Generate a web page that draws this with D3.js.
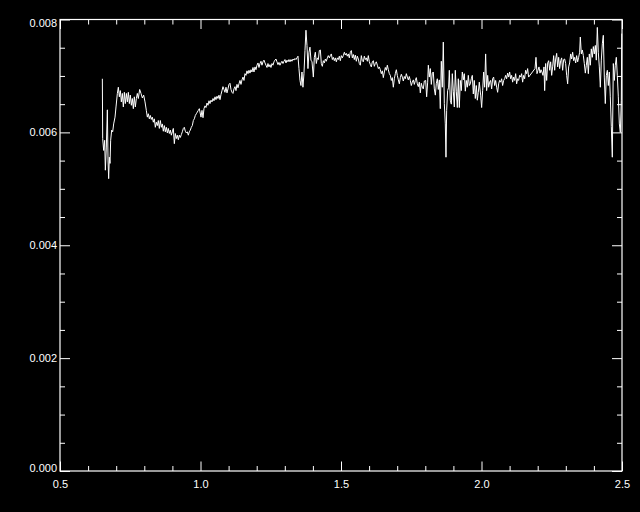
<!DOCTYPE html>
<html>
<head>
<meta charset="utf-8">
<script src="https://cdn.jsdelivr.net/npm/d3@7/dist/d3.min.js"></script>
<style>
  html, body { margin: 0; padding: 0; background: #000; }
  svg { display: block; }
</style>
</head>
<body>
<svg id="chart"></svg>
<script>
// spectrum, [wavelength, flux], split by stretch
var specVis = [
  [0.6507,0.00695],[0.6519,0.00589],[0.6554,0.00568],[0.6590,0.00586],[0.6614,0.00533],[0.6649,0.00574],
  [0.6685,0.00640],[0.6709,0.00551],[0.6732,0.00518],[0.6756,0.00556],[0.6780,0.00545],[0.6803,0.00586],
  [0.6839,0.00604],[0.6875,0.00601],[0.6910,0.00615],[0.6958,0.00627],[0.6993,0.00645],[0.7041,0.00669],
  [0.7076,0.00680],[0.7112,0.00663],[0.7147,0.00674],[0.7183,0.00654],[0.7219,0.00669],[0.7254,0.00645],
  [0.7290,0.00671],[0.7325,0.00651],[0.7361,0.00669],[0.7397,0.00654],[0.7432,0.00671],[0.7468,0.00651],
  [0.7503,0.00666],[0.7539,0.00648],[0.7574,0.00660],[0.7610,0.00642],[0.7645,0.00663],[0.7681,0.00645],
  [0.7717,0.00660],[0.7752,0.00669],[0.7788,0.00660],[0.7835,0.00676],[0.7883,0.00669],[0.7930,0.00661],
  [0.7978,0.00666],[0.8025,0.00654],[0.8072,0.00639],[0.8108,0.00627],[0.8144,0.00633],[0.8179,0.00624],
  [0.8215,0.00630],[0.8250,0.00623],[0.8286,0.00627],[0.8321,0.00618],[0.8357,0.00624],[0.8393,0.00609],
  [0.8428,0.00618],[0.8464,0.00612],[0.8499,0.00621],[0.8535,0.00607],[0.8570,0.00621],[0.8606,0.00609],
  [0.8642,0.00615],[0.8677,0.00602],[0.8713,0.00612],[0.8748,0.00601],[0.8784,0.00609],[0.8820,0.00599],
  [0.8855,0.00607],[0.8891,0.00598],[0.8926,0.00604],[0.8962,0.00595],[0.8997,0.00601],[0.9033,0.00607],
  [0.9069,0.00580],[0.9104,0.00598],[0.9140,0.00589],[0.9175,0.00595],[0.9211,0.00587],[0.9246,0.00595],
  [0.9282,0.00591],[0.9318,0.00596],[0.9353,0.00601],[0.9389,0.00607],[0.9424,0.00609],[0.9460,0.00602],
  [0.9496,0.00599],[0.9531,0.00601],[0.9567,0.00595],[0.9602,0.00601],[0.9638,0.00604],[0.9673,0.00609],
  [0.9709,0.00612],[0.9745,0.00621],[0.9780,0.00624],[0.9816,0.00630],[0.9851,0.00633],[0.9887,0.00636],
  [0.9922,0.00639],[0.9958,0.00642]
];

var specJ = [
  [1.0018,0.00627],[1.0053,0.00639],[1.0089,0.00626],[1.0124,0.00642],[1.0160,0.00647],[1.0195,0.00644],
  [1.0231,0.00652],[1.0267,0.00648],[1.0302,0.00656],[1.0338,0.00651],[1.0373,0.00657],[1.0409,0.00654],
  [1.0445,0.00660],[1.0480,0.00656],[1.0516,0.00663],[1.0551,0.00658],[1.0587,0.00664],[1.0622,0.00660],
  [1.0658,0.00666],[1.0694,0.00658],[1.0729,0.00667],[1.0765,0.00674],[1.0800,0.00681],[1.0836,0.00676],
  [1.0871,0.00671],[1.0907,0.00680],[1.0943,0.00670],[1.0978,0.00677],[1.1014,0.00685],[1.1049,0.00687],
  [1.1085,0.00676],[1.1121,0.00671],[1.1156,0.00669],[1.1192,0.00677],[1.1227,0.00681],[1.1263,0.00674],
  [1.1298,0.00685],[1.1334,0.00679],[1.1370,0.00686],[1.1405,0.00692],[1.1441,0.00685],[1.1476,0.00693],
  [1.1512,0.00698],[1.1547,0.00692],[1.1583,0.00704],[1.1619,0.00701],[1.1654,0.00709],[1.1690,0.00704],
  [1.1725,0.00710],[1.1761,0.00705],[1.1796,0.00711],[1.1832,0.00707],[1.1868,0.00715],[1.1903,0.00707],
  [1.1939,0.00716],[1.1974,0.00711],[1.2010,0.00719],[1.2046,0.00723],[1.2081,0.00715],[1.2117,0.00722],
  [1.2152,0.00726],[1.2188,0.00719],[1.2223,0.00725],[1.2259,0.00728],[1.2295,0.00723],[1.2330,0.00719],
  [1.2366,0.00715],[1.2401,0.00722],[1.2437,0.00716],[1.2472,0.00720],[1.2508,0.00715],[1.2544,0.00722],
  [1.2579,0.00719],[1.2615,0.00725],[1.2650,0.00728],[1.2686,0.00730],[1.2721,0.00725],[1.2757,0.00720],
  [1.2793,0.00724],[1.2828,0.00719],[1.2864,0.00723],[1.2899,0.00726],[1.2935,0.00722],[1.2970,0.00726],
  [1.3006,0.00729],[1.3042,0.00723],[1.3077,0.00728],[1.3113,0.00725],[1.3148,0.00729],[1.3184,0.00725],
  [1.3220,0.00729],[1.3255,0.00726],[1.3291,0.00730],[1.3326,0.00728],[1.3362,0.00731],[1.3397,0.00729],
  [1.3433,0.00732],[1.3469,0.00735],[1.3504,0.00713],[1.3540,0.00692],[1.3575,0.00683],[1.3611,0.00707],
  [1.3646,0.00680],[1.3682,0.00704],[1.3718,0.00745],[1.3753,0.00781],[1.3789,0.00754],[1.3824,0.00713],
  [1.3860,0.00742],[1.3896,0.00751],[1.3931,0.00728]
];

var specH = [
  [1.3968,0.00725],[1.4016,0.00698],[1.4051,0.00733],[1.4087,0.00742],[1.4122,0.00722],[1.4158,0.00732],
  [1.4194,0.00729],[1.4229,0.00745],[1.4265,0.00746],[1.4300,0.00722],[1.4336,0.00717],[1.4371,0.00727],
  [1.4407,0.00723],[1.4443,0.00730],[1.4478,0.00726],[1.4514,0.00732],[1.4549,0.00736],[1.4585,0.00732],
  [1.4620,0.00736],[1.4656,0.00739],[1.4692,0.00729],[1.4727,0.00733],[1.4763,0.00727],[1.4798,0.00732],
  [1.4834,0.00725],[1.4870,0.00732],[1.4905,0.00729],[1.4941,0.00735],[1.4976,0.00727],[1.5012,0.00736],
  [1.5047,0.00732],[1.5083,0.00736],[1.5119,0.00742],[1.5154,0.00737],[1.5190,0.00740],[1.5225,0.00735],
  [1.5261,0.00739],[1.5296,0.00732],[1.5332,0.00742],[1.5368,0.00745],[1.5403,0.00732],[1.5439,0.00738],
  [1.5474,0.00729],[1.5510,0.00737],[1.5545,0.00726],[1.5581,0.00735],[1.5617,0.00730],[1.5652,0.00722],
  [1.5688,0.00719],[1.5723,0.00736],[1.5759,0.00727],[1.5795,0.00725],[1.5830,0.00735],[1.5866,0.00729],
  [1.5901,0.00732],[1.5937,0.00726],[1.5972,0.00736],[1.6008,0.00725],[1.6044,0.00720],[1.6079,0.00716],
  [1.6115,0.00725],[1.6150,0.00727],[1.6186,0.00717],[1.6221,0.00722],[1.6257,0.00725],[1.6293,0.00719],
  [1.6329,0.00713],[1.6364,0.00716],[1.6400,0.00711],[1.6435,0.00704],[1.6471,0.00709],[1.6506,0.00697],
  [1.6542,0.00707],[1.6577,0.00715],[1.6613,0.00710],[1.6649,0.00719],[1.6684,0.00711],[1.6720,0.00704],
  [1.6755,0.00701],[1.6791,0.00692],[1.6826,0.00697],[1.6862,0.00680],[1.6898,0.00695],[1.6933,0.00704],
  [1.6969,0.00711],[1.7004,0.00701],[1.7040,0.00693],[1.7076,0.00686],[1.7111,0.00697],[1.7147,0.00703],
  [1.7182,0.00698],[1.7218,0.00691],[1.7253,0.00699],[1.7289,0.00695],[1.7325,0.00704],[1.7360,0.00698],
  [1.7396,0.00693],[1.7431,0.00699],[1.7467,0.00692],[1.7502,0.00683],[1.7538,0.00689],[1.7574,0.00693],
  [1.7609,0.00685],[1.7645,0.00692],[1.7680,0.00697],[1.7716,0.00686],[1.7751,0.00681],[1.7787,0.00689],
  [1.7823,0.00670],[1.7858,0.00687],[1.7894,0.00680],[1.7929,0.00677],[1.7965,0.00691]
];

var specK1 = [
  [1.8013,0.00692],[1.8048,0.00663],[1.8084,0.00689],[1.8108,0.00719],[1.8143,0.00698],[1.8179,0.00713],
  [1.8214,0.00685],[1.8250,0.00705],[1.8285,0.00707],[1.8321,0.00677],[1.8357,0.00666],[1.8392,0.00687],
  [1.8428,0.00695],[1.8463,0.00676],[1.8499,0.00693],[1.8534,0.00642],[1.8570,0.00726],[1.8606,0.00680],
  [1.8641,0.00760],[1.8677,0.00651],[1.8712,0.00615],[1.8736,0.00556],[1.8760,0.00639],[1.8795,0.00674],
  [1.8831,0.00680],[1.8855,0.00710],[1.8890,0.00657],[1.8926,0.00650],[1.8961,0.00704],[1.8997,0.00673],
  [1.9033,0.00645],[1.9068,0.00710],[1.9104,0.00673],[1.9139,0.00644],[1.9175,0.00695],[1.9210,0.00644],
  [1.9246,0.00692],[1.9282,0.00674],[1.9317,0.00707],[1.9353,0.00693],[1.9388,0.00704],[1.9424,0.00673],
  [1.9459,0.00692],[1.9495,0.00680],[1.9531,0.00701],[1.9566,0.00683],[1.9602,0.00686],[1.9637,0.00695],
  [1.9673,0.00701],[1.9709,0.00668],[1.9744,0.00692],[1.9780,0.00660],[1.9815,0.00683],[1.9851,0.00657],
  [1.9886,0.00671],[1.9922,0.00689],[1.9970,0.00666],[2.0005,0.00644],[2.0041,0.00674],[2.0076,0.00707],
  [2.0112,0.00680],[2.0147,0.00739],[2.0183,0.00674],[2.0219,0.00701],[2.0254,0.00680],[2.0290,0.00689],
  [2.0325,0.00692],[2.0361,0.00677],[2.0396,0.00695],[2.0432,0.00698],[2.0468,0.00683],[2.0503,0.00692],
  [2.0539,0.00680],[2.0574,0.00671],[2.0610,0.00686],[2.0645,0.00692],[2.0681,0.00689],[2.0717,0.00695],
  [2.0752,0.00683],[2.0788,0.00692],[2.0823,0.00695],[2.0859,0.00701],[2.0894,0.00695],[2.0930,0.00705],
  [2.0966,0.00698],[2.1001,0.00707],[2.1037,0.00695],[2.1072,0.00701],[2.1108,0.00689],[2.1144,0.00698],
  [2.1179,0.00692],[2.1215,0.00704],[2.1250,0.00686],[2.1286,0.00695],[2.1321,0.00692],[2.1357,0.00701],
  [2.1393,0.00698],[2.1428,0.00704],[2.1464,0.00689],[2.1499,0.00701],[2.1535,0.00695],[2.1570,0.00710],
  [2.1606,0.00704],[2.1642,0.00713],[2.1677,0.00698]
];

var specK2 = [
  [2.1904,0.00713],[2.1939,0.00733],[2.1975,0.00704],[2.2011,0.00710],[2.2046,0.00716],[2.2082,0.00705],
  [2.2117,0.00711],[2.2153,0.00707],[2.2188,0.00701],[2.2224,0.00716],[2.2248,0.00674],[2.2283,0.00722],
  [2.2319,0.00692],[2.2355,0.00723],[2.2390,0.00727],[2.2426,0.00710],[2.2461,0.00725],[2.2497,0.00701],
  [2.2532,0.00716],[2.2568,0.00736],[2.2604,0.00710],[2.2639,0.00730],[2.2675,0.00740],[2.2710,0.00716],
  [2.2746,0.00733],[2.2781,0.00713],[2.2817,0.00727],[2.2853,0.00732],[2.2888,0.00710],[2.2924,0.00729],
  [2.2959,0.00730],[2.2995,0.00722],[2.3031,0.00701],[2.3066,0.00686],[2.3102,0.00716],[2.3137,0.00723],
  [2.3173,0.00739],[2.3208,0.00730],[2.3244,0.00742],[2.3280,0.00727],[2.3315,0.00733],[2.3351,0.00723],
  [2.3386,0.00736],[2.3422,0.00725],[2.3457,0.00733],[2.3493,0.00742],[2.3517,0.00769],[2.3553,0.00739],
  [2.3588,0.00746],[2.3624,0.00736],[2.3659,0.00722],[2.3695,0.00705],[2.3730,0.00719],[2.3766,0.00733],
  [2.3802,0.00704],[2.3837,0.00739],[2.3873,0.00719],[2.3908,0.00748],[2.3944,0.00733],[2.3980,0.00752],
  [2.4015,0.00739],[2.4051,0.00754],[2.4086,0.00728],[2.4122,0.00786],[2.4157,0.00742],[2.4193,0.00716],
  [2.4229,0.00680],[2.4264,0.00728],[2.4300,0.00757],[2.4335,0.00772],[2.4371,0.00698],[2.4406,0.00651],
  [2.4442,0.00701],[2.4478,0.00710],[2.4513,0.00683],[2.4549,0.00707],[2.4584,0.00663],[2.4620,0.00610],
  [2.4655,0.00556],[2.4691,0.00722],[2.4727,0.00692],[2.4762,0.00719],[2.4798,0.00733],[2.4833,0.00701],
  [2.4869,0.00663],[2.4905,0.00615],[2.4940,0.00600],[2.4976,0.00657],[2.4990,0.00775]
];

var xTicks = [0.5, 1.0, 1.5, 2.0, 2.5];
var yTicks = [0.000, 0.002, 0.004, 0.006, 0.008];

var W = 640, H = 512;
var plotL = 60, plotR = 622, plotT = 19.5, plotB = 471;

var svg = d3.select("#chart")
    .attr("width", W)
    .attr("height", H)
    .style("background", "#000");

var x = d3.scaleLinear().domain([0.5, 2.5]).range([plotL, plotR]);
var y = d3.scaleLinear().domain([0, 0.008]).range([plotB, plotT]);

// minor ticks: 0.1 in x, 0.0005 in y
var xMinor = d3.range(0.5, 2.5001, 0.1).filter(function(v) {
  return Math.abs(v * 2 - Math.round(v * 2)) > 1e-6;
});
var yMinor = d3.range(0, 0.00801, 0.0005).filter(function(v) {
  return Math.abs(v / 0.002 - Math.round(v / 0.002)) > 1e-6;
});

function styleAxis(g) {
  g.select(".domain").remove();
  g.selectAll("line").attr("stroke", "#fff").attr("stroke-width", 1);
  g.selectAll("text")
    .attr("fill", "#fff")
    .style("font-family", "'Liberation Sans', Arial, sans-serif")
    .style("font-size", "11px");
}

// bottom axis with labels
svg.append("g")
  .attr("transform", "translate(0," + plotB + ")")
  .call(d3.axisBottom(x).tickValues(xTicks).tickSize(-9.5).tickSizeOuter(0)
          .tickPadding(9).tickFormat(d3.format(".1f")))
  .call(styleAxis);
svg.append("g")
  .attr("transform", "translate(0," + plotB + ")")
  .call(d3.axisBottom(x).tickValues(xMinor).tickSize(-5).tickSizeOuter(0).tickFormat(""))
  .call(styleAxis);

// top axis ticks only
svg.append("g")
  .attr("transform", "translate(0," + plotT + ")")
  .call(d3.axisTop(x).tickValues(xTicks).tickSize(-9.5).tickSizeOuter(0).tickFormat(""))
  .call(styleAxis);
svg.append("g")
  .attr("transform", "translate(0," + plotT + ")")
  .call(d3.axisTop(x).tickValues(xMinor).tickSize(-5).tickSizeOuter(0).tickFormat(""))
  .call(styleAxis);

// left axis with labels
var yAxisG = svg.append("g")
  .attr("transform", "translate(" + plotL + ",0)")
  .call(d3.axisLeft(y).tickValues(yTicks).tickSize(-10).tickSizeOuter(0)
          .tickPadding(3).tickFormat(d3.format(".3f")))
  .call(styleAxis);
// end labels are nudged inside the axis range
yAxisG.selectAll("text").attr("dy", function(d) {
  if (d === 0) return "0.05em";
  if (d === 0.008) return "0.68em";
  return "0.32em";
});
svg.append("g")
  .attr("transform", "translate(" + plotL + ",0)")
  .call(d3.axisLeft(y).tickValues(yMinor).tickSize(-5).tickSizeOuter(0).tickFormat(""))
  .call(styleAxis);

// right axis ticks only
svg.append("g")
  .attr("transform", "translate(" + plotR + ",0)")
  .call(d3.axisRight(y).tickValues(yTicks).tickSize(-10).tickSizeOuter(0).tickFormat(""))
  .call(styleAxis);
svg.append("g")
  .attr("transform", "translate(" + plotR + ",0)")
  .call(d3.axisRight(y).tickValues(yMinor).tickSize(-5).tickSizeOuter(0).tickFormat(""))
  .call(styleAxis);

// frame
svg.append("rect")
  .attr("x", plotL)
  .attr("y", plotT)
  .attr("width", plotR - plotL)
  .attr("height", plotB - plotT)
  .attr("fill", "none")
  .attr("stroke", "#fff")
  .attr("stroke-width", 1.2);

// spectrum
var spectrum = specVis.concat(specJ, specH, specK1, specK2);

var line = d3.line()
  .x(function(d) { return x(d[0]); })
  .y(function(d) { return y(d[1]); });

svg.append("path")
  .datum(spectrum)
  .attr("d", line)
  .attr("fill", "none")
  .attr("stroke", "#fff")
  .attr("stroke-width", 1)
  .attr("stroke-linejoin", "miter");
</script>
</body>
</html>
